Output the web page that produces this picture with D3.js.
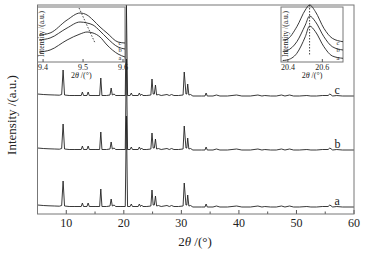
<!DOCTYPE html>
<html>
<head>
<meta charset="utf-8">
<title>XRD patterns a, b, c</title>
<script src="https://d3js.org/d3.v7.min.js"></script>
<style>
  body { margin: 0; background: #fff; }
  svg { display: block; font-family: "Liberation Serif", "Times New Roman", serif; }
  .frame { fill: none; stroke: #777; stroke-width: 1; }
  .trace { fill: none; stroke: #222; stroke-width: 0.9; }
  .tick { stroke: #555; stroke-width: 1; }
</style>
</head>
<body>
<div id="chart"></div>
<script>
// main pattern: 2theta (deg) and intensity above baseline
const twoTheta = [5.0, 6.0, 7.0, 8.0, 8.8, 9.2, 9.45, 9.7, 10.5, 11.5, 12.6, 12.8, 13.0, 13.6, 13.8, 14.0,
  15.0, 15.8, 16.0, 16.2, 17.0, 17.6, 17.8, 18.0, 18.3, 18.6, 19.5, 20.25, 20.45, 20.65, 21.1, 21.3, 21.5,
  22.5, 22.7, 22.9, 23.1, 23.3, 24.0, 24.7, 24.9, 25.1, 25.3, 25.5, 25.7, 26.0, 26.5, 27.5, 27.9, 28.3,
  28.7, 29.5, 30.3, 30.5, 30.8, 30.95, 31.1, 31.3, 31.6, 32.0, 33.5, 34.1, 34.3, 34.5, 35.5, 36.1, 36.7,
  38.0, 39.6, 40.5, 42.0, 43.3, 44.0, 44.5, 45.5, 46.5, 47.4, 48.0, 48.8, 49.5, 50.5, 51.8, 52.5, 53.5,
  54.5, 55.5, 55.8, 56.3, 57.0, 58.0, 60.0];
const counts = [3, 2.5, 2.2, 2, 1.8, 2.5, 27, 2, 1.5, 1.5, 1.5, 5, 1.5, 1.5, 5, 1.5,
  1.5, 1.5, 19, 1.5, 1.5, 2, 9, 2, 3, 1.5, 1.5, 1.5, 92, 1.5, 1.5, 4, 1.5,
  1.5, 4, 1.5, 3, 1.5, 1.5, 2, 18, 3, 3, 12, 2, 2.5, 1.5, 2.5, 1.5, 2.5,
  1.5, 1.5, 2, 25, 3, 3, 13, 2, 2.5, 1, 1, 1, 4, 1, 1, 2, 1,
  1, 2, 1, 1, 2, 1, 1.5, 1, 1, 2, 1, 2, 1, 1, 1.5, 1, 1,
  1.5, 1.5, 3, 1, 1.5, 1, 1];
const sampleNames = ["a", "b", "c"];
const sampleOffsets = [6, 63, 117];
const xTicks = [10, 20, 30, 40, 50, 60];
const xMinorTicks = [15, 25, 35, 45, 55];

// inset 1: around 9.5 deg
const inset1Theta = [9.39, 9.4175, 9.46, 9.4925, 9.51, 9.525, 9.5425, 9.56, 9.5875, 9.605];
const inset1A = [10, 12, 22, 28, 30, 29, 25, 17, 8, 5];
const inset1B = [22, 24, 34, 40, 39, 37, 31, 24, 15, 13];
const inset1C = [27, 29, 42, 49, 47, 42, 35, 29, 20, 19];
const inset1Shift = [[9.49, 54], [9.53, 19]];
const inset1Ticks = [9.4, 9.5, 9.6];

// inset 2: around 20.5 deg
const inset2Theta = [20.37, 20.394, 20.452, 20.501, 20.526, 20.56, 20.609, 20.658, 20.72];
const inset2A = [1.5, 2, 8.7, 25.3, 36, 30.3, 15.3, 6, 3.7];
const inset2B = [10.5, 11.3, 20.3, 37, 46, 40.3, 25.3, 15.3, 12];
const inset2C = [22, 22.7, 35.3, 52, 57, 50.3, 33.7, 23.7, 20.3];
const inset2Shift = [[20.526, 57], [20.526, 7]];
const inset2Ticks = [20.4, 20.6];

const W = 372, H = 255;
const svg = d3.select("#chart").append("svg").attr("width", W).attr("height", H);

// ---------- main plot ----------
const x = d3.scaleLinear().domain([5, 60]).range([37.5, 354]);
const y = d3.scaleLinear().domain([0, 209]).range([214, 5]);

const pattern = twoTheta.map((t, i) => [t, counts[i]]);

sampleNames.forEach((name, k) => {
  const line = d3.line().x(d => x(d[0])).y(d => y(d[1] + sampleOffsets[k]));
  svg.append("path").attr("class", "trace").attr("d", line(pattern));
  svg.append("text")
    .attr("x", x(56.6)).attr("y", y(sampleOffsets[k] + 3))
    .attr("font-size", 12).attr("fill", "#222")
    .text(name);
});

const bottom = svg.append("g").attr("transform", "translate(0,214)");
bottom.selectAll(".maj").data(xTicks).enter().append("line")
  .attr("class", "tick").attr("x1", d => x(d)).attr("x2", d => x(d)).attr("y1", 0).attr("y2", -4);
bottom.selectAll(".min").data(xMinorTicks).enter().append("line")
  .attr("class", "tick").attr("x1", d => x(d)).attr("x2", d => x(d)).attr("y1", 0).attr("y2", -2.5);
bottom.selectAll(".lab").data(xTicks).enter().append("text")
  .attr("x", d => x(d)).attr("y", 13).attr("text-anchor", "middle")
  .attr("font-size", 12).attr("fill", "#222").text(d => d);

svg.append("rect").attr("class", "frame")
  .attr("x", 37.5).attr("y", 5).attr("width", 354 - 37.5).attr("height", 209);

const xl = svg.append("text").attr("x", 195).attr("y", 246).attr("text-anchor", "middle")
  .attr("font-size", 13).attr("fill", "#222");
xl.append("tspan").text("2");
xl.append("tspan").attr("font-style", "italic").text("θ");
xl.append("tspan").text(" /(°)");

svg.append("text").attr("transform", "translate(16,115) rotate(-90)")
  .attr("text-anchor", "middle").attr("font-size", 13).attr("fill", "#222")
  .text("Intensity /(a.u.)");

// ---------- insets ----------
function drawInset(opt) {
  const ix = d3.scaleLinear().domain(opt.domain).range([opt.left, opt.right]);
  const iy = d3.scaleLinear().domain([0, 55]).range([62, 7]);
  const g = svg.append("g");
  g.append("rect").attr("x", opt.left).attr("y", 7).attr("width", opt.right - opt.left).attr("height", 55)
    .attr("fill", "#fff").attr("stroke", "#777");
  const line = d3.line().x(d => ix(d[0])).y(d => iy(d[1])).curve(d3.curveMonotoneX);
  opt.series.forEach((s, k) => {
    g.append("path").attr("class", "trace").attr("d", line(opt.theta.map((t, i) => [t, s[i]])));
  });
  g.append("path").attr("fill", "none").attr("stroke", "#333").attr("stroke-width", 0.9)
    .attr("stroke-dasharray", "1.5,1.5")
    .attr("d", d3.line().x(d => ix(d[0])).y(d => iy(d[1]))(opt.shift));
  opt.labelY.forEach((v, k) => {
    g.append("text").attr("x", opt.right - 5).attr("y", v).attr("text-anchor", "middle")
      .attr("font-size", 6.5).attr("fill", "#222").text(sampleNames[2 - k]);
  });
  g.selectAll(".t").data(opt.ticks).enter().append("line").attr("class", "tick")
    .attr("x1", d => ix(d)).attr("x2", d => ix(d)).attr("y1", 62).attr("y2", 59);
  g.selectAll(".tl").data(opt.ticks).enter().append("text")
    .attr("x", d => ix(d)).attr("y", 70).attr("text-anchor", "middle")
    .attr("font-size", 8).attr("fill", "#222").text(d => d);
  const t = g.append("text").attr("x", (opt.left + opt.right) / 2).attr("y", 78)
    .attr("text-anchor", "middle").attr("font-size", 8).attr("fill", "#222");
  t.append("tspan").text("2");
  t.append("tspan").attr("font-style", "italic").text("θ");
  t.append("tspan").text(" /(°)");
  g.append("text").attr("transform", `translate(${opt.left + 6.5},34) rotate(-90)`)
    .attr("text-anchor", "middle").attr("font-size", 7.5).attr("fill", "#222")
    .text("Intensity /(a.u.)");
}

drawInset({
  domain: [9.386, 9.605], left: 37.5, right: 125,
  theta: inset1Theta, series: [inset1A, inset1B, inset1C],
  shift: inset1Shift, ticks: inset1Ticks, labelY: [44.5, 52, 59.5]
});
drawInset({
  domain: [20.36, 20.72], left: 281, right: 343,
  theta: inset2Theta, series: [inset2A, inset2B, inset2C],
  shift: inset2Shift, ticks: inset2Ticks, labelY: [44.5, 52, 59.5]
});
</script>
</body>
</html>
